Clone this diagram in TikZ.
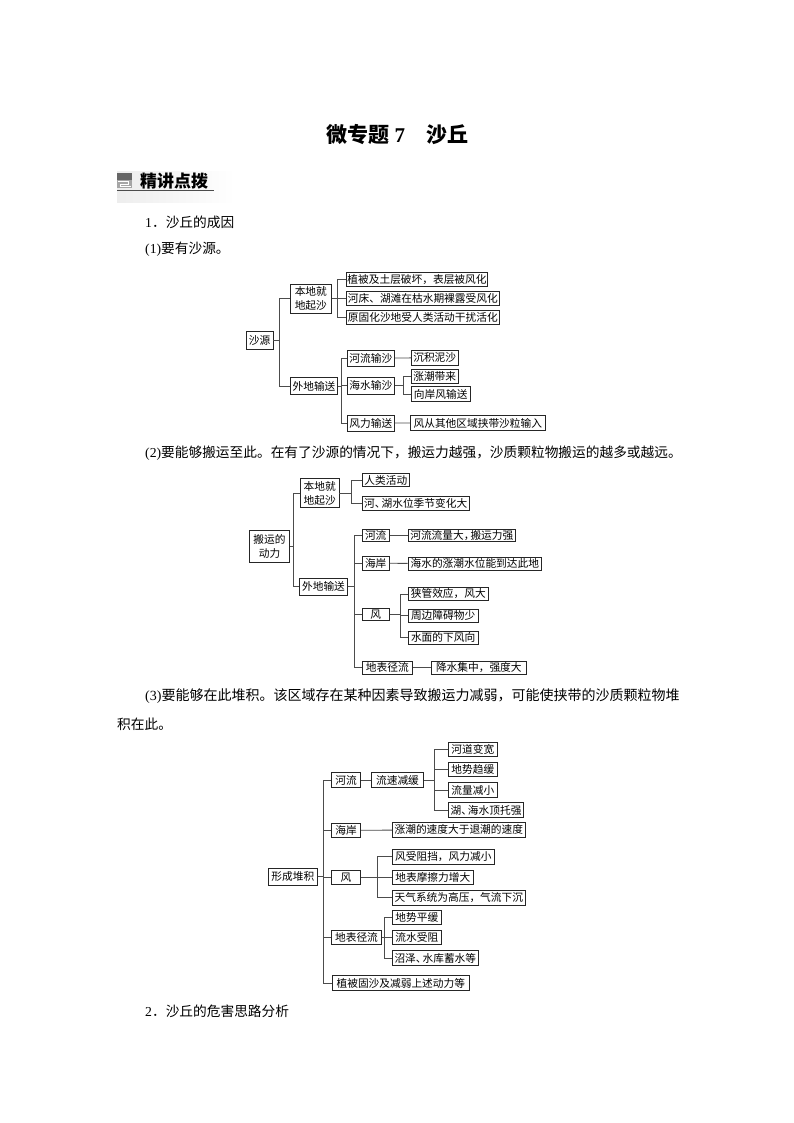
\documentclass[tikz,border=0pt]{standalone}
\usepackage{fontspec}
\setmainfont{Noto Sans CJK SC}
\newfontfamily\numfont{Liberation Serif}
\usetikzlibrary{positioning}
\newcommand{\narrowp}[1]{#1\kern-4pt}
\tikzset{
    tagbox/.style 2 args={draw=black!85, line width=0.7pt, fill=white, inner sep=0pt, align=center,
        font=\fontsize{10.7}{14}\selectfont, minimum width=#1, minimum height=#2},
    linktree/.style={draw=black!70, line width=0.8pt},
    bodytext/.style={anchor=west, inner sep=0pt, font=\fontsize{13.7}{16}\selectfont}
}
\begin{document}
\begin{tikzpicture}[x=1pt, y=-1pt]
    \useasboundingbox (0, 0) rectangle (794, 1123);
    % page heading
    \node[inner sep=0pt, font=\fontsize{21}{24}\selectfont\bfseries] (heading) at (397.5, 135) {微专题 {\numfont 7}\quad 沙丘};
    \shade[left color=black!7, right color=white] (117, 172) rectangle (235, 203);
    \fill[black!35] (117, 173) rectangle (132, 188);
    \fill[black!60] (117, 173) rectangle (132, 180);
    \draw[white, line width=0.8pt] (118, 181.5) -- (128, 181.5) -- (128, 184) -- (120, 184) -- (120, 186.5) -- (131, 186.5);
    \draw[black!70, line width=0.7pt] (117, 190) -- (214, 190);
    \node[anchor=west, inner sep=0pt, font=\fontsize{17}{18}\selectfont\bfseries] (section) at (140, 181) {精讲点拨};
    \node[bodytext] (causes) at (145, 222.5) {{\numfont 1}．沙丘的成因};
    \node[bodytext] (sourcetext) at (145, 249.5) {{\numfont (1)}要有沙源。};
    \node[bodytext] (windtext) at (145, 453) {{\numfont (2)}要能够搬运至此。在有了沙源的情况下，搬运力越强，沙质颗粒物搬运的越多或越远。};
    \node[bodytext, font=\fontsize{14}{16}\selectfont] (depotexta) at (145, 696.5) {{\numfont (3)}要能够在此堆积。该区域存在某种因素导致搬运力减弱，可能使挟带的沙质颗粒物堆};
    \node[bodytext] (depotextb) at (117, 724) {积在此。};
    \node[bodytext] (harmtext) at (145, 1011.5) {{\numfont 2}．沙丘的危害思路分析};

    % first tree
    \node[tagbox={27}{18}] (srcroot) at (259.5, 340.5) {沙源};
    \node[tagbox={41}{29}] (srclocal) at (310.8, 298.8) {本地就\\地起沙};
    \node[tagbox={47.5}{17}] (srcfar) at (314, 386) {外地输送};
    \node[tagbox={141.5}{14.5}] (srcplant) at (417, 279.5) {植被及土层破坏，表层被风化};
    \node[tagbox={153}{14.5}] (srcbed) at (422.8, 298.2) {河床、湖滩在枯水期裸露受风化};
    \node[tagbox={153}{14.5}] (srcfixed) at (422.8, 317.2) {原固化沙地受人类活动干扰活化};
    \node[tagbox={47}{16.5}] (srcriver) at (370.8, 358.2) {河流输沙};
    \node[tagbox={47}{16.5}] (srcsea) at (370.8, 385.7) {海水输沙};
    \node[tagbox={47}{16}] (srcwind) at (370.8, 423) {风力输送};
    \node[tagbox={46.7}{14.7}] (srcmud) at (434.7, 357.7) {沉积泥沙};
    \node[tagbox={46.7}{14}] (srctide) at (434.7, 376.3) {涨潮带来};
    \node[tagbox={58.7}{15}] (srconshore) at (440.7, 394.2) {向岸风输送};
    \node[tagbox={135}{15}] (srcother) at (477.8, 423.2) {风从其他区域挟带沙粒输入};
    \coordinate (srcfork) at (279.3, 340.5);
    \coordinate (localfork) at (337.7, 298.8);
    \coordinate (farfork) at (341.7, 386);
    \coordinate (seafork) at (403.3, 385.7);
    \foreach \kid in {srclocal, srcfar}
        \draw[linktree] (srcroot.east) -- (srcfork) |- (\kid.west);
    \foreach \kid in {srcplant, srcbed, srcfixed}
        \draw[linktree] (srclocal.east) -- (localfork) |- (\kid.west);
    \foreach \kid in {srcriver, srcsea, srcwind}
        \draw[linktree] (srcfar.east) -- (farfork) |- (\kid.west);
    \foreach \kid in {srctide, srconshore}
        \draw[linktree] (srcsea.east) -- (seafork) |- (\kid.west);
    \draw[linktree] (srcriver) -- (srcmud);
    \draw[linktree] (srcwind) -- (srcother);

    % second tree
    \node[tagbox={40.4}{31.7}] (carryroot) at (269.5, 546) {搬运的\\动力};
    \node[tagbox={38.7}{29.4}] (carrylocal) at (319.7, 493) {本地就\\地起沙};
    \node[tagbox={47.6}{17}] (carryfar) at (323.5, 586.5) {外地输送};
    \node[tagbox={47.7}{13.4}] (carryhuman) at (385.8, 480) {人类活动};
    \node[tagbox={107.3}{14}] (carrylevel) at (415.7, 503.7) {河\narrowp{、}湖水位季节变化大};
    \node[tagbox={27.3}{12.4}] (carryriver) at (375.7, 535.5) {河流};
    \node[tagbox={27.3}{13.3}] (carrycoast) at (375.7, 563.3) {海岸};
    \node[tagbox={27.3}{12}] (carrywind) at (375.7, 614.3) {风};
    \node[tagbox={50.7}{13}] (carryrunoff) at (387.3, 667.8) {地表径流};
    \node[tagbox={107.7}{12.4}] (carryflow) at (461.8, 535.5) {河流流量大\narrowp{，}搬运力强};
    \node[tagbox={133.7}{13}] (carrytide) at (474.8, 563.5) {海水的涨潮水位能到达此地};
    \node[tagbox={80.7}{12.6}] (carrypipe) at (448.3, 594) {狭管效应，风大};
    \node[tagbox={70.3}{13}] (carryfew) at (443.1, 615.8) {周边障碍物少};
    \node[tagbox={70.3}{13}] (carrylee) at (443.1, 637.5) {水面的下风向};
    \node[tagbox={94.3}{13}] (carryrain) at (478.8, 667.8) {降水集中，强度大};
    \coordinate (carryfork) at (293.3, 546);
    \coordinate (carrylocalfork) at (351, 493);
    \coordinate (carryfarfork) at (354, 586.5);
    \coordinate (carrywindfork) at (400, 614.3);
    \foreach \kid in {carrylocal, carryfar}
        \draw[linktree] (carryroot.east) -- (carryfork) |- (\kid.west);
    \foreach \kid in {carryhuman, carrylevel}
        \draw[linktree] (carrylocal.east) -- (carrylocalfork) |- (\kid.west);
    \foreach \kid in {carryriver, carrycoast, carrywind, carryrunoff}
        \draw[linktree] (carryfar.east) -- (carryfarfork) |- (\kid.west);
    \foreach \kid in {carrypipe, carryfew, carrylee}
        \draw[linktree] (carrywind.east) -- (carrywindfork) |- (\kid.west);
    \draw[linktree] (carryriver) -- (carryflow);
    \draw[linktree] (carrycoast) -- (carrytide);
    \draw[linktree] (carryrunoff) -- (carryrain);

    % third tree
    \node[tagbox={49}{17}] (piledroot) at (292.8, 876.8) {形成堆积};
    \node[tagbox={29.4}{14.6}] (piledriver) at (346, 780) {河流};
    \node[tagbox={52.4}{14.6}] (piledslow) at (397.5, 780) {流速减缓};
    \node[tagbox={49}{14.4}] (piledwide) at (472.8, 749.5) {河道变宽};
    \node[tagbox={49}{14.7}] (piledslope) at (472.8, 769.3) {地势趋缓};
    \node[tagbox={49}{14.6}] (piledless) at (472.8, 790) {流量减小};
    \node[tagbox={75.4}{14.6}] (piledback) at (486, 810) {湖\narrowp{、}海水顶托强};
    \node[tagbox={29.4}{14}] (piledcoast) at (346, 830.3) {海岸};
    \node[tagbox={133}{15}] (piledtide) at (458.8, 829.8) {涨潮的速度大于退潮的速度};
    \node[tagbox={29.4}{14.3}] (piledwind) at (346, 877.2) {风};
    \node[tagbox={102}{15}] (piledblock) at (443.3, 856.8) {风受阻挡，风力减小};
    \node[tagbox={81}{14.3}] (piledfriction) at (432.8, 877.2) {地表摩擦力增大};
    \node[tagbox={133}{14.7}] (piledhigh) at (458.8, 897.7) {天气系统为高压，气流下沉};
    \node[tagbox={50.4}{14.3}] (piledrunoff) at (356.5, 937.2) {地表径流};
    \node[tagbox={49}{14.3}] (piledflat) at (416.8, 917.2) {地势平缓};
    \node[tagbox={49}{14.3}] (piledblocked) at (416.8, 937.2) {流水受阻};
    \node[tagbox={86}{14.6}] (piledswamp) at (435.3, 958) {沼泽\narrowp{、}水库蓄水等};
    \node[tagbox={137}{14.6}] (piledplant) at (400.8, 983) {植被固沙及减弱上述动力等};
    \coordinate (piledfork) at (323.3, 876.8);
    \coordinate (slowfork) at (434.7, 780);
    \coordinate (windfork) at (377.3, 877.2);
    \coordinate (runofffork) at (384.3, 937.2);
    \foreach \kid in {piledriver, piledcoast, piledwind, piledrunoff, piledplant}
        \draw[linktree] (piledroot.east) -- (piledfork) |- (\kid.west);
    \draw[linktree] (piledriver) -- (piledslow);
    \draw[linktree] (piledcoast) -- (piledtide);
    \foreach \kid in {piledwide, piledslope, piledless, piledback}
        \draw[linktree] (piledslow.east) -- (slowfork) |- (\kid.west);
    \foreach \kid in {piledblock, piledfriction, piledhigh}
        \draw[linktree] (piledwind.east) -- (windfork) |- (\kid.west);
    \foreach \kid in {piledflat, piledblocked, piledswamp}
        \draw[linktree] (piledrunoff.east) -- (runofffork) |- (\kid.west);
\end{tikzpicture}
\end{document}
